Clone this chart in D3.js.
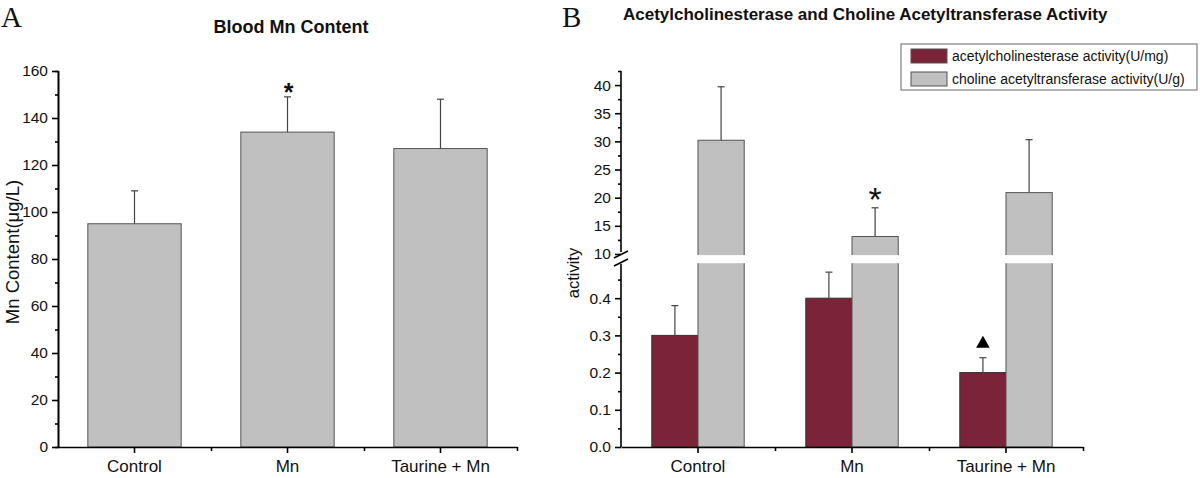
<!DOCTYPE html>
<html>
<head>
<meta charset="utf-8">
<script src="https://d3js.org/d3.v7.min.js"></script>
<style>
  body { margin: 0; background: #fff; }
  svg text { font-family: "Liberation Sans", Arial, sans-serif; fill: #111; }
  svg text.panel { font-family: "Liberation Serif", "Times New Roman", serif; }
  .axis path, .axis line { stroke: #000; stroke-width: 1.6px; }
  .axis text { font-size: 15.5px; fill: #111; }
  .xaxis text { font-size: 17px; }
</style>
</head>
<body>
<svg id="chart" width="1200" height="478"></svg>
<script>
// ---- data ----
var categories = ["Control", "Mn", "Taurine + Mn"];

// panel A
var mnContent = [95, 134, 127];
var mnError = [14, 15, 21];
var aTicks = [0, 20, 40, 60, 80, 100, 120, 140, 160];
var aMinor = [10, 30, 50, 70, 90, 110, 130, 150];

// panel B
var seriesNames = ["acetylcholinesterase activity(U/mg)", "choline acetyltransferase activity(U/g)"];
var acheActivity = [0.30, 0.40, 0.20];
var acheError = [0.08, 0.07, 0.04];
var chatActivity = [30.2, 13.1, 20.9];
var chatError = [9.5, 5.1, 9.4];
var bLowTicks = [0, 0.1, 0.2, 0.3, 0.4];
var bLowMinor = [0.05, 0.15, 0.25, 0.35, 0.45];
var bHighTicks = [10, 15, 20, 25, 30, 35, 40];
var bHighMinor = [12.5, 17.5, 22.5, 27.5, 32.5, 37.5, 42.5];

var maroon = "#7a2339", grey = "#c0c0c0";

var svg = d3.select("#chart");

function errBar(g, x, y0, y1) {
  g.append("line").attr("x1", x).attr("x2", x).attr("y1", y0).attr("y2", y1)
    .attr("stroke", "#444").attr("stroke-width", 1.2);
  g.append("line").attr("x1", x - 3.5).attr("x2", x + 3.5).attr("y1", y1).attr("y2", y1)
    .attr("stroke", "#444").attr("stroke-width", 1.2);
}

function xAxis(g, x, yPos) {
  var lin = d3.scaleLinear().domain([0, categories.length]).range(x.range());
  g.append("g").attr("class", "axis xaxis").attr("transform", "translate(0," + yPos + ")")
    .call(d3.axisBottom(x).tickSize(6).tickSizeOuter(0).tickPadding(7));
  g.append("g").attr("class", "axis").attr("transform", "translate(0," + yPos + ")")
    .call(d3.axisBottom(lin).tickValues([1, 2, 3]).tickSize(4).tickFormat(""))
    .select(".domain").remove();
}

/* ========== Panel A ========== */
var gA = svg.append("g");
var xA = d3.scaleBand().domain(categories).range([58, 517]).paddingInner(0.39).paddingOuter(0.195);
var yA = d3.scaleLinear().domain([0, 160]).range([447, 71]);

gA.selectAll("rect.bar").data(mnContent).enter().append("rect")
  .attr("x", function(d, i) { return xA(categories[i]); })
  .attr("y", function(d) { return yA(d); })
  .attr("width", xA.bandwidth())
  .attr("height", function(d) { return yA(0) - yA(d); })
  .attr("fill", grey).attr("stroke", "#555").attr("stroke-width", 1);

mnContent.forEach(function(d, i) {
  var cx = xA(categories[i]) + xA.bandwidth() / 2;
  errBar(gA, cx, yA(d), yA(d + mnError[i]));
});

gA.append("g").attr("class", "axis").attr("transform", "translate(58,0)")
  .call(d3.axisLeft(yA).tickValues(aTicks).tickSize(6).tickSizeOuter(0).tickPadding(4));
gA.append("g").attr("class", "axis").attr("transform", "translate(58,0)")
  .call(d3.axisLeft(yA).tickValues(aMinor).tickSize(3).tickFormat(""));
xAxis(gA, xA, 447);

gA.append("text").attr("x", 288.5).attr("y", yA(149) - 11).attr("text-anchor", "middle")
  .attr("font-size", "25px").attr("font-weight", "bold").attr("dy", "0.6em").text("*");

gA.append("text").attr("transform", "translate(19,252) rotate(-90)")
  .attr("text-anchor", "middle").attr("font-size", "18.5px")
  .text("Mn Content(\u03bcg/L)");

gA.append("text").attr("x", 291).attr("y", 33).attr("text-anchor", "middle")
  .attr("font-size", "18px").attr("font-weight", "bold").text("Blood Mn Content");
gA.append("text").attr("class", "panel").attr("x", 1).attr("y", 27)
  .attr("font-size", "29px").text("A");

/* ========== Panel B ========== */
var gB = svg.append("g");
var xB = d3.scaleBand().domain(categories).range([621, 1083]).paddingInner(0.4).paddingOuter(0.2);
var yLo = d3.scaleLinear().domain([0, 0.49]).range([447, 264.7]);
var yHi = d3.scaleLinear().domain([9.8, 42.5]).range([255.1, 71]);
var half = xB.bandwidth() / 2;

// acetylcholinesterase bars (lower scale)
gB.selectAll("rect.ache").data(acheActivity).enter().append("rect")
  .attr("x", function(d, i) { return xB(categories[i]); })
  .attr("y", function(d) { return yLo(d); })
  .attr("width", half)
  .attr("height", function(d) { return yLo(0) - yLo(d); })
  .attr("fill", maroon).attr("stroke", "#333").attr("stroke-width", 1);

// choline acetyltransferase bars (upper scale, broken)
gB.selectAll("rect.chat").data(chatActivity).enter().append("rect")
  .attr("x", function(d, i) { return xB(categories[i]) + half; })
  .attr("y", function(d) { return yHi(d); })
  .attr("width", half)
  .attr("height", function(d) { return yLo(0) - yHi(d); })
  .attr("fill", grey).attr("stroke", "#555").attr("stroke-width", 1);

// break gap across the grey bars
gB.selectAll("rect.gap").data(chatActivity).enter().append("rect")
  .attr("x", function(d, i) { return xB(categories[i]) + half - 1; })
  .attr("y", yHi(9.8))
  .attr("width", half + 2)
  .attr("height", yLo(0.49) - yHi(9.8) - 1.5)
  .attr("fill", "#fff");

acheActivity.forEach(function(d, i) {
  var cx = xB(categories[i]) + half / 2;
  errBar(gB, cx, yLo(d), yLo(d + acheError[i]));
});
chatActivity.forEach(function(d, i) {
  var cx = xB(categories[i]) + half * 1.5;
  errBar(gB, cx, yHi(d), yHi(d + chatError[i]));
});

// y axes (two segments)
var hiAx = gB.append("g").attr("class", "axis").attr("transform", "translate(621,0)");
hiAx.call(d3.axisLeft(yHi).tickValues(bHighTicks).tickSize(6).tickSizeOuter(0).tickPadding(4));
hiAx.select(".domain").attr("d", "M0," + (yHi(9.8) - 3) + "V" + yHi(42.5));
gB.append("g").attr("class", "axis").attr("transform", "translate(621,0)")
  .call(d3.axisLeft(yHi).tickValues(bHighMinor).tickSize(3).tickFormat(""))
  .select(".domain").remove();

var loAx = gB.append("g").attr("class", "axis").attr("transform", "translate(621,0)");
loAx.call(d3.axisLeft(yLo).tickValues(bLowTicks).tickSize(6).tickSizeOuter(0).tickPadding(4)
  .tickFormat(d3.format(".1f")));
loAx.select(".domain").attr("d", "M0," + yLo(0) + "V" + (yLo(0.49) - 1));
gB.append("g").attr("class", "axis").attr("transform", "translate(621,0)")
  .call(d3.axisLeft(yLo).tickValues(bLowMinor).tickSize(3).tickFormat(""))
  .select(".domain").remove();

// break marks
[0, 8].forEach(function(o) {
  gB.append("line").attr("x1", 614).attr("y1", 258 + o).attr("x2", 628).attr("y2", 251 + o)
    .attr("stroke", "#000").attr("stroke-width", 1.6);
});

xAxis(gB, xB, 447);

// significance markers
gB.append("text").attr("x", xB("Mn") + half * 1.5).attr("y", yHi(13.1 + 5.1) - 17)
  .attr("text-anchor", "middle").attr("font-size", "34px").attr("dy", "0.6em").text("*");
gB.append("path")
  .attr("d", d3.symbol().type(d3.symbolTriangle).size(80)())
  .attr("transform", "translate(" + (xB("Taurine + Mn") + half / 2) + "," + (yLo(0.24) - 14) + ")")
  .attr("fill", "#000");

gB.append("text").attr("transform", "translate(579,273) rotate(-90)")
  .attr("text-anchor", "middle").attr("font-size", "16.5px").text("activity");

gB.append("text").attr("x", 623).attr("y", 20)
  .attr("font-size", "17px").attr("font-weight", "bold")
  .text("Acetylcholinesterase and Choline Acetyltransferase Activity");
gB.append("text").attr("class", "panel").attr("x", 562).attr("y", 27)
  .attr("font-size", "29px").text("B");

// legend
var leg = gB.append("g");
leg.append("rect").attr("x", 901).attr("y", 44).attr("width", 296).attr("height", 46)
  .attr("fill", "#fff").attr("stroke", "#666").attr("stroke-width", 1);
[maroon, grey].forEach(function(c, i) {
  leg.append("rect").attr("x", 911).attr("y", 49 + i * 23).attr("width", 36).attr("height", 14)
    .attr("fill", c).attr("stroke", "#555").attr("stroke-width", 1);
  leg.append("text").attr("x", 952).attr("y", 61 + i * 23).attr("font-size", "14px")
    .text(seriesNames[i]);
});
</script>
</body>
</html>
